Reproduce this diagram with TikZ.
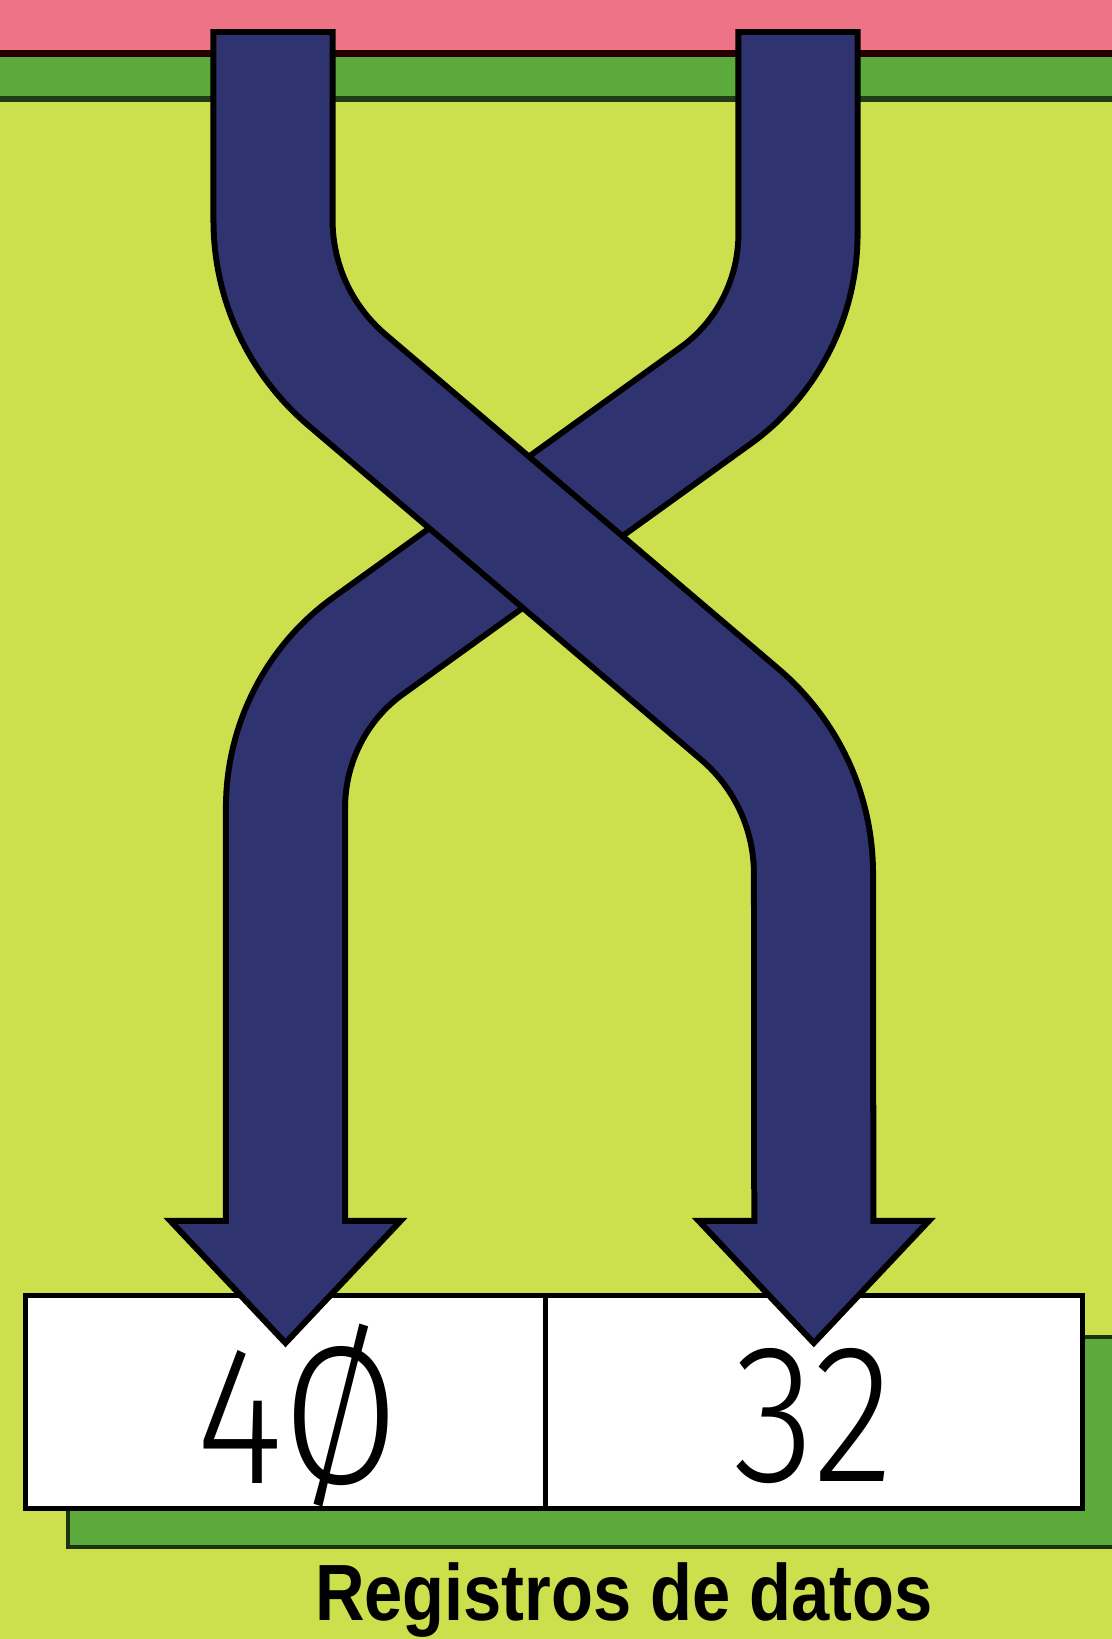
\documentclass[tikz,border=0pt]{standalone}
\usepackage{fontspec}
\usepackage{xcolor}
\usepackage{tikz}
\usetikzlibrary{calc,positioning}
\newfontfamily\regfont[FakeStretch=0.85]{Fira Sans Light}
\newfontfamily\capfont[FakeStretch=0.86]{Liberation Sans}
\definecolor{bglime}{HTML}{CCE04E}
\definecolor{stripgreen}{HTML}{5CAA3C}
\definecolor{toppink}{HTML}{EE7386}
\definecolor{navyband}{HTML}{2F3470}

\begin{document}
\begin{tikzpicture}[x=0.01cm,y=-0.01cm,
  register/.style={draw=black,fill=white,line width=0.05cm,minimum height=2.12cm,inner sep=0pt,outer sep=0pt,font=\regfont\fontsize{56}{56}\selectfont},
  bandedge/.style={draw=black,line width=1.25cm},
  bandcore/.style={draw=navyband,line width=1.13cm},
  headtip/.style={fill=navyband,draw=black,line width=0.06cm,line join=miter}]
\useasboundingbox (0,0) rectangle (1112,1639);
\clip (0,0) rectangle (1112,1639);
% background and top strips
\fill[bglime] (0,0) rectangle (1112,1639);
\fill[toppink] (0,0) rectangle (1112,53);
\fill[stripgreen] (0,53) rectangle (1112,100);
\draw[line width=0.07cm,black!85!red] (0,53) -- (1112,53);
\draw[line width=0.06cm,black!65!stripgreen] (0,99) -- (1112,99);

% data registers
\draw[fill=stripgreen,draw=black!70!stripgreen,line width=0.04cm] (68,1337) rectangle (1140,1547);
\node[register,minimum width=5.19cm] (r40) at (285.5,1402) {\raisebox{-0.14cm}[\height][\depth]{\kern0.25cm 4Ø}};
\node[register,minimum width=5.37cm,right=0pt of r40] (r32) {\raisebox{-0.14cm}[\height][\depth]{32}};
\node[font=\capfont\bfseries\fontsize{22.7}{24}\selectfont,anchor=base] (cap) at (624,1620) {Registros de datos};

\coordinate (inA) at (273,35);
\coordinate (inB) at (798,35);
\coordinate (baseA) at ($(r32.north)+(0,-75)$);
\coordinate (tipA) at ($(r32.north)+(0,47)$);
\coordinate (baseB) at ($(r40.north)+(0,-75)$);
\coordinate (tipB) at ($(r40.north)+(0,47)$);

% band from the right, goes under
\draw[bandedge] ($(inB)+(0,-6)$) -- (798,234) .. controls (798,298) and (767,359) .. (715,396) -- (368.5,645.5) .. controls (316.5,682.5) and (285.5,743.5) .. (285.5,807.5) -- (baseB);
\draw[headtip] ($(baseB)+(-115,0)$) -- ($(baseB)+(115,0)$) -- (tipB) -- cycle;
\draw[bandcore] (inB) -- (798,234) .. controls (798,298) and (767,359) .. (715,396) -- (368.5,645.5) .. controls (316.5,682.5) and (285.5,743.5) .. (285.5,807.5) -- ($(baseB)+(0,6)$);

% band from the left, goes over
\draw[bandedge] ($(inA)+(0,-6)$) -- (273,220) .. controls (273,282) and (300,340) .. (347,380) -- (739.5,714) .. controls (786.5,754) and (813.5,812) .. (813.5,874) -- (baseA);
\draw[headtip] ($(baseA)+(-115,0)$) -- ($(baseA)+(115,0)$) -- (tipA) -- cycle;
\draw[bandcore] (inA) -- (273,220) .. controls (273,282) and (300,340) .. (347,380) -- (739.5,714) .. controls (786.5,754) and (813.5,812) .. (813.5,874) -- ($(baseA)+(0,6)$);
\end{tikzpicture}
\end{document}
